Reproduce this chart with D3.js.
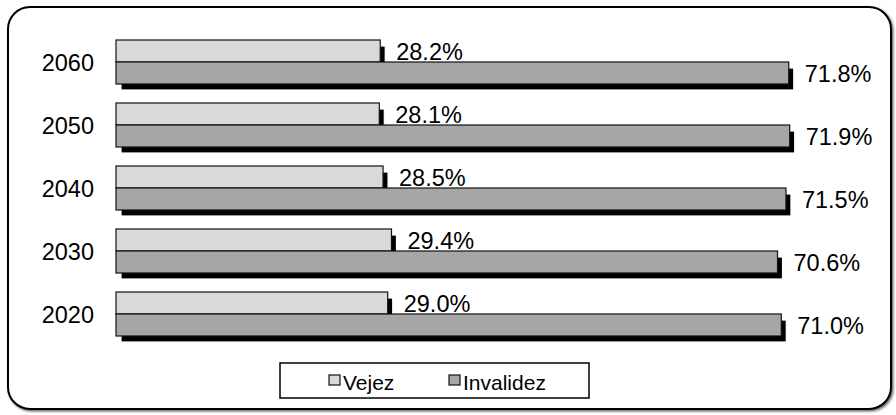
<!DOCTYPE html>
<meta charset="utf-8">
<style>
body { margin: 0; background: #fff; }
text { font-family: Arial, "Liberation Sans", sans-serif; fill: #000; }
</style>
<svg width="896" height="415"></svg>
<script src="https://cdn.jsdelivr.net/npm/d3@7"></script>
<script>

const years = ["2020", "2030", "2040", "2050", "2060"];
const vejez = [29.0, 29.4, 28.5, 28.1, 28.2];
const invalidez = [71.0, 70.6, 71.5, 71.9, 71.8];
const seriesNames = ["Vejez", "Invalidez"];
const seriesColours = {"Vejez": "#d9d9d9", "Invalidez": "#a6a6a6"};

const shadowDx = 5, shadowDy = 6;
const fontsize = 23.5;

var svg = d3.select("svg");

// frame with soft shadow
var defs = svg.append("defs");
var f = defs.append("filter").attr("id", "frameShadow")
  .attr("x", "-5%").attr("y", "-5%").attr("width", "110%").attr("height", "110%");
f.append("feDropShadow").attr("dx", 1.5).attr("dy", 1.5).attr("stdDeviation", 0.8)
  .attr("flood-color", "#000").attr("flood-opacity", 0.6);

svg.append("rect")
  .attr("x", 8).attr("y", 7)
  .attr("width", 883).attr("height", 402)
  .attr("rx", 22).attr("ry", 22)
  .attr("fill", "#fff")
  .attr("stroke", "#000")
  .attr("stroke-width", 2)
  .attr("filter", "url(#frameShadow)");

var x = d3.scaleLinear().domain([0, 80]).range([116, 116 + 9.37 * 80]);

var y = d3.scaleBand()
  .domain(years.slice().reverse())
  .range([30.5, 345.5])
  .paddingInner(19 / 63)
  .paddingOuter(19 / 126);

var ySub = d3.scaleBand().domain(seriesNames).range([0, y.bandwidth()]);

var rows = years.map(function(yr, i) {
  return {year: yr, values: [
    {name: "Vejez", value: vejez[i]},
    {name: "Invalidez", value: invalidez[i]}
  ]};
});

var group = svg.selectAll(".row")
  .data(rows)
  .enter().append("g")
  .attr("class", "row")
  .attr("transform", function(d) { return "translate(0," + y(d.year) + ")"; });

// shadows first
group.selectAll(".shadow")
  .data(function(d) { return d.values; })
  .enter().append("rect")
  .attr("class", "shadow")
  .attr("x", x(0) + shadowDx)
  .attr("y", function(d) { return ySub(d.name) + shadowDy; })
  .attr("width", function(d) { return x(d.value) - x(0); })
  .attr("height", ySub.bandwidth())
  .attr("fill", "#000")
  .attr("stroke", "#fff")
  .attr("stroke-width", 1.2);

group.selectAll(".bar")
  .data(function(d) { return d.values; })
  .enter().append("rect")
  .attr("class", "bar")
  .attr("x", x(0))
  .attr("y", function(d) { return ySub(d.name); })
  .attr("width", function(d) { return x(d.value) - x(0); })
  .attr("height", ySub.bandwidth())
  .attr("fill", function(d) { return seriesColours[d.name]; })
  .attr("stroke", "#111")
  .attr("stroke-width", 1.2);

group.selectAll(".val")
  .data(function(d) { return d.values; })
  .enter().append("text")
  .attr("class", "val")
  .attr("x", function(d) { return x(d.value) + 16; })
  .attr("y", function(d) { return ySub(d.name) + ySub.bandwidth() - 2; })
  .attr("font-size", fontsize)
  .text(function(d) { return d.value.toFixed(1) + "%"; });

// year labels
group.append("text")
  .attr("x", 94)
  .attr("y", y.bandwidth() / 2 + 8.5)
  .attr("text-anchor", "end")
  .attr("font-size", fontsize)
  .text(function(d) { return d.year; });

// legend
var legend = svg.append("g");
legend.append("rect")
  .attr("x", 280).attr("y", 363)
  .attr("width", 309).attr("height", 35)
  .attr("fill", "#fff")
  .attr("stroke", "#000")
  .attr("stroke-width", 1.5);

var legendX = {"Vejez": 329, "Invalidez": 449};
var item = legend.selectAll(".item")
  .data(seriesNames)
  .enter().append("g")
  .attr("class", "item")
  .attr("transform", function(d) { return "translate(" + legendX[d] + ",0)"; });

item.append("rect")
  .attr("x", 0).attr("y", 375)
  .attr("width", 11).attr("height", 10)
  .attr("fill", function(d) { return seriesColours[d]; })
  .attr("stroke", "#111")
  .attr("stroke-width", 1.2);

item.append("text")
  .attr("x", 14)
  .attr("y", 389.5)
  .attr("font-size", 21)
  .text(function(d) { return d; });

</script>
